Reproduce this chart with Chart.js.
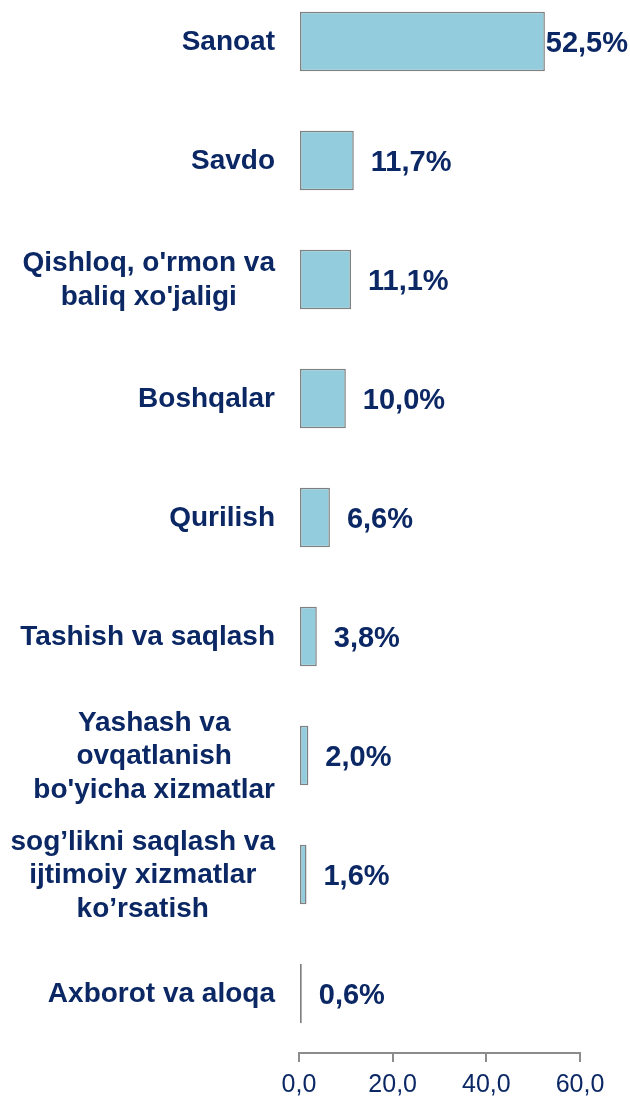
<!DOCTYPE html>
<html>
<head>
<meta charset="utf-8">
<script src="https://cdn.jsdelivr.net/npm/chart.js@4.4.1/dist/chart.umd.min.js"></script>
<style>
    html, body { margin: 0; padding: 0; background: #fff; overflow: hidden; }
    #wrap { position: relative; width: 630px; height: 1098px; overflow: hidden; }
    #barChartCanvas { position: absolute; left: 0; top: -18px; }
</style>
</head>
<body>
<div id="wrap">
    <canvas id="barChartCanvas" width="630" height="1116"></canvas>
</div>
<script>
// sectors (multi-line labels as in the picture)
let categories = [
    ['Sanoat'],
    ['Savdo'],
    ["Qishloq, o'rmon va", "baliq xo'jaligi"],
    ['Boshqalar'],
    ['Qurilish'],
    ['Tashish va saqlash'],
    ['Yashash va', 'ovqatlanish', "bo'yicha xizmatlar"],
    ['sog\u2019likni saqlash va', 'ijtimoiy xizmatlar', 'ko\u2019rsatish'],
    ['Axborot va aloqa']
];
let shares = [52.5, 11.7, 11.1, 10.0, 6.6, 3.8, 2.0, 1.6, 0.6];
let xTicks = [0, 20, 40, 60];

let navy = '#0b2865';
let fmt = function (v, d) {
    return v.toFixed(d).replace('.', ',');
};

// category names, right block aligned, lines centered inside the block
let catLabels = {
    id: 'catLabels',
    afterDraw: function (chart) {
        let ctx = chart.ctx;
        let yScale = chart.scales.y;
        let right = 275;
        let lh = 33.5;
        ctx.save();
        ctx.font = 'bold 28px "Liberation Sans", Arial, sans-serif';
        ctx.fillStyle = navy;
        ctx.textAlign = 'center';
        ctx.textBaseline = 'middle';
        categories.forEach(function (lines, i) {
            let y = yScale.getPixelForValue(i);
            let w = Math.max.apply(null, lines.map(function (l) { return ctx.measureText(l).width; }));
            let cx = right - w / 2;
            let y0 = y - (lines.length - 1) * lh / 2;
            lines.forEach(function (l, k) {
                ctx.fillText(l, cx, y0 + k * lh + 1);
            });
        });
        ctx.restore();
    }
};

// value labels at the end of each bar
let valueLabels = {
    id: 'valueLabels',
    afterDatasetsDraw: function (chart) {
        let ctx = chart.ctx;
        let meta = chart.getDatasetMeta(0);
        ctx.save();
        ctx.font = 'bold 29px "Liberation Sans", Arial, sans-serif';
        ctx.fillStyle = navy;
        ctx.textAlign = 'left';
        ctx.textBaseline = 'middle';
        meta.data.forEach(function (bar, i) {
            let txt = fmt(shares[i], 1) + '%';
            let w = ctx.measureText(txt).width;
            let x = Math.min(bar.x + 17, 628 - w);
            ctx.fillText(txt, x, bar.y + 2);
        });
        ctx.restore();
    }
};

window.onload = function () {
    let ctx = document.getElementById('barChartCanvas').getContext('2d');
    window.barChart = new Chart(ctx, {
        type: 'bar',
        data: {
            labels: categories.map(function (c) { return c.join(' '); }),
            datasets: [{
                data: shares,
                backgroundColor: '#93cddd',
                borderColor: '#808080',
                borderWidth: 1.5,
                borderSkipped: false,
                barPercentage: 0.5,
                categoryPercentage: 1.0
            }]
        },
        options: {
            indexAxis: 'y',
            responsive: false,
            animation: false,
            layout: { padding: { left: 0, right: 50, top: 0, bottom: 0 } },
            plugins: {
                legend: { display: false },
                tooltip: { enabled: false }
            },
            scales: {
                x: {
                    min: 0,
                    max: 60,
                    afterBuildTicks: function (scale) {
                        scale.ticks = xTicks.map(function (v) { return { value: v }; });
                    },
                    afterFit: function (scale) { scale.height = 45; },
                    grid: {
                        drawOnChartArea: false,
                        drawTicks: true,
                        tickLength: 9,
                        color: '#8c8c8c',
                        lineWidth: 2
                    },
                    border: { display: true, color: '#8c8c8c', width: 2 },
                    ticks: {
                        padding: 8,
                        color: navy,
                        font: { family: '"Liberation Sans", Arial, sans-serif', size: 25 },
                        callback: function (v) { return fmt(v, 1); }
                    }
                },
                y: {
                    afterFit: function (scale) { scale.width = 299; },
                    grid: { display: false },
                    border: { display: false },
                    ticks: { display: false }
                }
            }
        },
        plugins: [catLabels, valueLabels]
    });
};
</script>
</body>
</html>
